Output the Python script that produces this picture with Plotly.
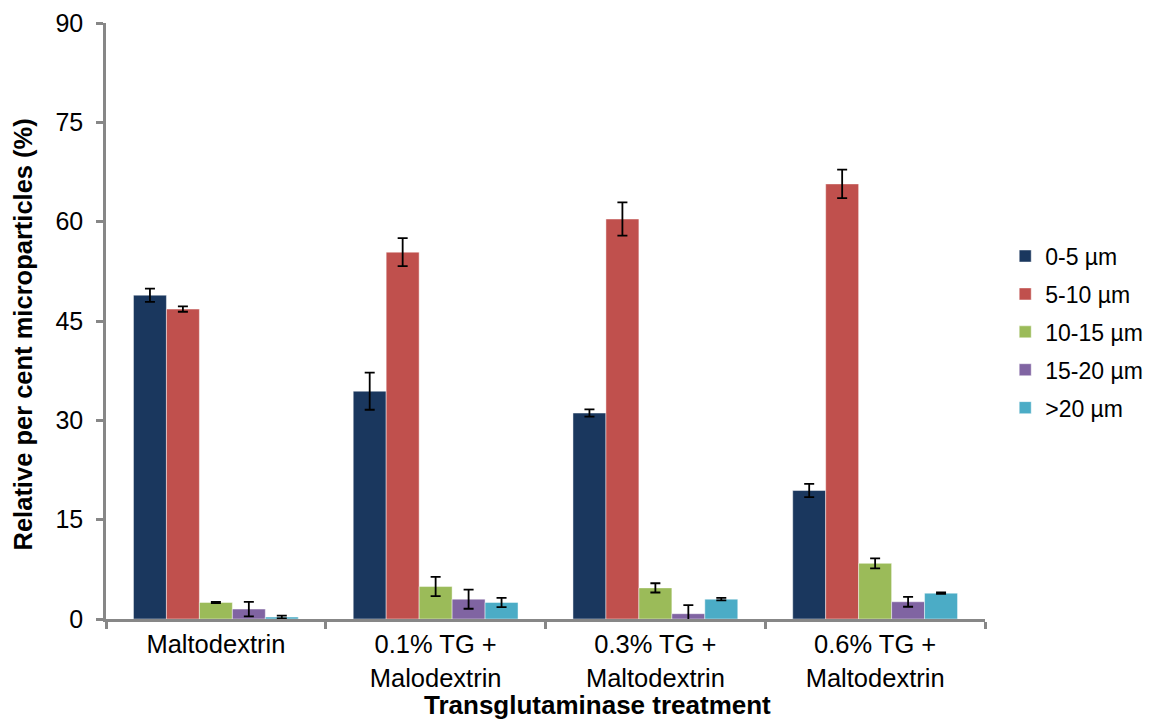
import plotly.graph_objects as go

# Treatment groups on the x axis
categories = [
    "Maltodextrin",
    "0.1% TG +<br>Malodextrin",
    "0.3% TG +<br>Maltodextrin",
    "0.6% TG +<br>Maltodextrin",
]

# Particle size classes (legend)
size_classes = ["0-5 µm", "5-10 µm", "10-15 µm", "15-20 µm", ">20 µm"]

# Relative per cent of microparticles per size class, one list per class
pct_0_5 = [48.9, 34.4, 31.1, 19.4]
pct_5_10 = [46.8, 55.4, 60.4, 65.7]
pct_10_15 = [2.5, 4.9, 4.7, 8.4]
pct_15_20 = [1.5, 3.0, 0.8, 2.6]
pct_over_20 = [0.3, 2.5, 3.0, 3.9]

# Standard deviations for the error bars
sd_0_5 = [1.0, 2.8, 0.55, 1.0]
sd_5_10 = [0.4, 2.1, 2.5, 2.15]
sd_10_15 = [0.1, 1.45, 0.7, 0.75]
sd_15_20 = [1.1, 1.45, 1.3, 0.75]
sd_over_20 = [0.2, 0.7, 0.2, 0.1]

values = [pct_0_5, pct_5_10, pct_10_15, pct_15_20, pct_over_20]
errors = [sd_0_5, sd_5_10, sd_10_15, sd_15_20, sd_over_20]
colors = ["#1a375e", "#c0504d", "#9bbb59", "#8064a2", "#4bacc6"]

FONT = "Liberation Sans, Arial, sans-serif"
AXIS_GREY = "#878787"

fig = go.Figure()
for name, vals, errs, col in zip(size_classes, values, errors, colors):
    fig.add_trace(
        go.Bar(
            name=name,
            x=categories,
            y=vals,
            legendgroup=name,
            marker=dict(color=col, line=dict(color="rgba(255,255,255,0.45)", width=1)),
            error_y=dict(type="data", array=errs, visible=True,
                         color="black", thickness=1.8, width=5),
        )
    )

fig.update_layout(
    width=1153,
    height=723,
    margin=dict(l=106, r=168, t=23, b=104, autoexpand=False),
    paper_bgcolor="white",
    plot_bgcolor="white",
    barmode="group",
    bargap=0.25,
    bargroupgap=0,
    font=dict(family=FONT, color="black"),
    showlegend=True,
    legend=dict(
        x=1.023, xanchor="left",
        y=0.645, yanchor="top",
        font=dict(size=23, family=FONT),
        traceorder="grouped",
        tracegroupgap=5,
        bgcolor="rgba(0,0,0,0)",
    ),
    xaxis=dict(
        range=[-0.5, 3.5],
        showline=True, linecolor=AXIS_GREY, linewidth=2.5,
        ticks="outside", tickson="boundaries", ticklen=7,
        tickcolor=AXIS_GREY, tickwidth=2.5,
        tickfont=dict(size=25.5, family=FONT),
        ticklabelstandoff=1,
        showgrid=False, zeroline=False,
    ),
    yaxis=dict(
        range=[0, 90], dtick=15, tick0=0,
        showline=True, linecolor=AXIS_GREY, linewidth=2.5,
        ticks="outside", ticklen=7, tickcolor=AXIS_GREY, tickwidth=2.5,
        tickfont=dict(size=25, family=FONT),
        ticklabelstandoff=8,
        showgrid=False, zeroline=False,
    ),
    annotations=[
        dict(
            text="<b>Transglutaminase treatment</b>",
            xref="paper", yref="paper", x=0.559, y=-0.145,
            xanchor="center", yanchor="middle", showarrow=False,
            font=dict(size=26, family=FONT),
        ),
        dict(
            text="<b>Relative per cent microparticles (%)</b>",
            xref="paper", yref="paper", x=-0.094, y=0.478,
            xanchor="center", yanchor="middle", showarrow=False,
            textangle=-90,
            font=dict(size=25.5, family=FONT),
        ),
    ],
)

fig.write_html("out.html")
